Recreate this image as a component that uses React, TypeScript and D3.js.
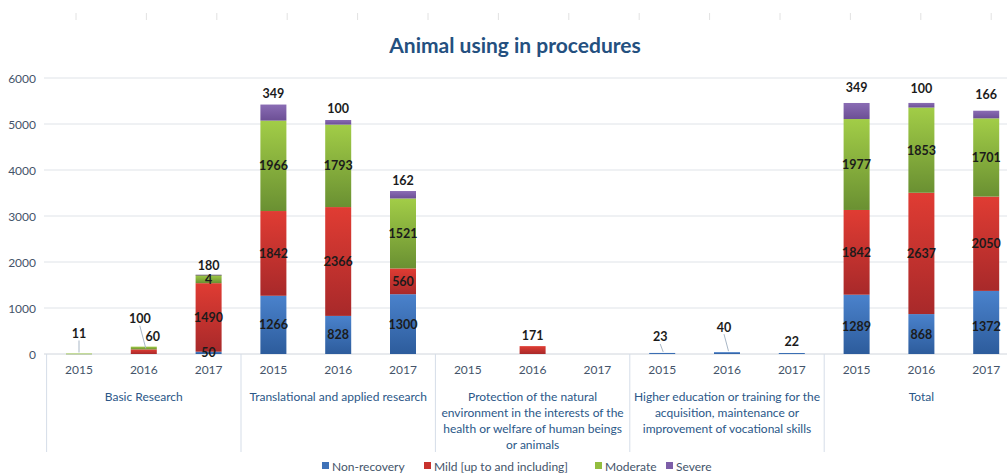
import React from "react";
import * as d3 from "d3";

const W = 1007;
const H = 473;

const groups = [
  ["Basic Research"],
  ["Translational and applied research"],
  ["Protection of the natural", "environment in the interests of the", "health or welfare of human beings", "or animals"],
  ["Higher education or training for the", "acquisition, maintenance or", "improvement of vocational skills"],
  ["Total"],
];
const years = ["2015", "2016", "2017"];
const seriesNames = ["Non-recovery", "Mild [up to and including]", "Moderate", "Severe"];

// values per category (group x year), in order of the 15 bars
const nonRecovery = [0, 0, 50, 1266, 828, 1300, 0, 0, 0, 23, 40, 22, 1289, 868, 1372];
const mild = [0, 100, 1490, 1842, 2366, 560, 0, 171, 0, 0, 0, 0, 1842, 2637, 2050];
const moderate = [11, 60, 180, 1966, 1793, 1521, 0, 0, 0, 0, 0, 0, 1977, 1853, 1701];
const severe = [0, 0, 4, 349, 100, 162, 0, 0, 0, 0, 0, 0, 349, 100, 166];

const yTicks = [0, 1000, 2000, 3000, 4000, 5000, 6000];

// label nudges (style): key = "bar-series"
const nudges: Record<string, { dx: number; dy: number; leader?: boolean }> = {
  "0-2": { dx: 0, dy: -9, leader: true },
  "1-1": { dx: -4, dy: -33, leader: true },
  "1-2": { dx: 9, dy: 1 },
  "2-2": { dx: 0, dy: -14 },
  "2-3": { dx: 0, dy: 16 },
  "9-0": { dx: -2, dy: -5, leader: true },
  "10-0": { dx: -3, dy: -14, leader: true },
  "12-3": { dx: 0, dy: -4 },
  "13-3": { dx: 0, dy: -3 },
  "14-3": { dx: 0, dy: -5 },
  "12-0": { dx: 0, dy: 2 },
  "14-0": { dx: 0, dy: 4 },
};

const gradStops = [
  ["#4a82cc", "#2d5c9c"],
  ["#e03c33", "#a8292a"],
  ["#a2cd47", "#6a9032"],
  ["#8a6cb4", "#6c4f95"],
];
const legendColors = ["#3f72b8", "#c8322d", "#93bd3f", "#7d5ea8"];

export default function App() {
  const seriesData = [nonRecovery, mild, moderate, severe];
  const cats = d3.range(15).map((i) => `${i}`);
  const x = d3.scaleBand<string>().domain(cats).range([46.6, 1018.6]).padding(0);
  const y = d3.scaleLinear().domain([0, 6000]).range([354, 78]);
  const bw = 26;

  const rows = cats.map((_, i) => {
    const o: any = { i };
    seriesData.forEach((s, k) => (o[`s${k}`] = s[i]));
    return o;
  });
  const stack = d3.stack<any>().keys(["s0", "s1", "s2", "s3"]);
  const stacked = stack(rows);

  const font = "Lato, 'Open Sans', sans-serif";
  const step = x.step();
  const groupX = (g: number) => 46.6 + g * 3 * step;

  const segs: JSX.Element[] = [];
  const labels: JSX.Element[] = [];
  cats.forEach((c, i) => {
    const cx = (x(c) as number) + step / 2;
    let topK = -1;
    for (let k = 0; k < 4; k++) if (seriesData[k][i] > 0) topK = k;
    for (let k = 0; k < 4; k++) {
      const v = seriesData[k][i];
      if (v <= 0) continue;
      const [a, b] = stacked[k][i];
      const y0 = y(a);
      const y1 = y(b);
      segs.push(
        <rect key={`r${i}-${k}`} x={cx - bw / 2} y={y1} width={bw} height={Math.max(y0 - y1, 0.8)} fill={`url(#g${k})`} />
      );
      let lx = cx;
      let ly = k === topK && (k === 3 || y0 - y1 < 14) ? y1 - 11 : (y0 + y1) / 2;
      const n = nudges[`${i}-${k}`];
      if (n) {
        lx += n.dx;
        ly += n.dy;
        if (n.leader) {
          labels.push(
            <line key={`l${i}-${k}`} x1={lx} y1={ly + 7} x2={cx + (n.dx < 0 ? -n.dx : 0) * 0.5} y2={y1 - 1} stroke="#a9b7c6" strokeWidth={1} />
          );
        }
      }
      labels.push(
        <text key={`t${i}-${k}`} x={lx} y={ly} textAnchor="middle" dominantBaseline="central" fontFamily={font} fontWeight={700} fontSize={12.5} fill="#1b1b1b">
          {v}
        </text>
      );
    }
  });

  return (
    <svg width={W} height={H} style={{ position: "absolute", left: 0, top: 0, background: "#fff" }}>
      <defs>
        {gradStops.map((g, k) => (
          <linearGradient key={k} id={`g${k}`} x1="0" y1="0" x2="0" y2="1">
            <stop offset="0" stopColor={g[0]} />
            <stop offset="1" stopColor={g[1]} />
          </linearGradient>
        ))}
      </defs>
      {d3.range(14).map((j) => (
        <line key={`tk${j}`} x1={76 + j * 70.4} x2={76 + j * 70.4} y1={13} y2={20} stroke="#e2e2e2" strokeWidth={1} />
      ))}
      <text x={515} y={44} textAnchor="middle" dominantBaseline="central" fontFamily={font} fontWeight={700} fontSize={21} fill="#24507f">
        Animal using in procedures
      </text>
      {yTicks.map((t) => (
        <g key={`y${t}`}>
          <line x1={44} x2={W} y1={y(t)} y2={y(t)} stroke={t === 0 ? "#d0d5dc" : "#dfe3e8"} strokeWidth={1} />
          <text x={36} y={y(t)} textAnchor="end" dominantBaseline="central" fontFamily={font} fontSize={12} fill="#44546a">
            {t}
          </text>
        </g>
      ))}
      {segs}
      {labels}
      {d3.range(5).map((g) => (
        <line key={`sep${g}`} x1={groupX(g)} x2={groupX(g)} y1={354} y2={452} stroke="#d5dde8" strokeWidth={1} />
      ))}
      {cats.map((c, i) => (
        <text key={`yr${i}`} x={(x(c) as number) + step / 2} y={369} textAnchor="middle" dominantBaseline="central" fontFamily={font} fontSize={12} fill="#44546a">
          {years[i % 3]}
        </text>
      ))}
      {groups.map((lines, g) => (
        <text key={`gl${g}`} x={groupX(g) + 1.5 * step} y={396} textAnchor="middle" dominantBaseline="central" fontFamily={font} fontSize={12} fill="#2b5788">
          {lines.map((ln, j) => (
            <tspan key={j} x={groupX(g) + 1.5 * step} dy={j === 0 ? 0 : 16}>
              {ln}
            </tspan>
          ))}
        </text>
      ))}
      {seriesNames.map((s, k) => {
        const lx = [322, 424, 595, 666][k];
        return (
          <g key={`lg${k}`}>
            <rect x={lx} y={462} width={7} height={7} fill={legendColors[k]} />
            <text x={lx + 10} y={466} dominantBaseline="central" fontFamily={font} fontSize={12} fill="#44546a">
              {s}
            </text>
          </g>
        );
      })}
    </svg>
  );
}
